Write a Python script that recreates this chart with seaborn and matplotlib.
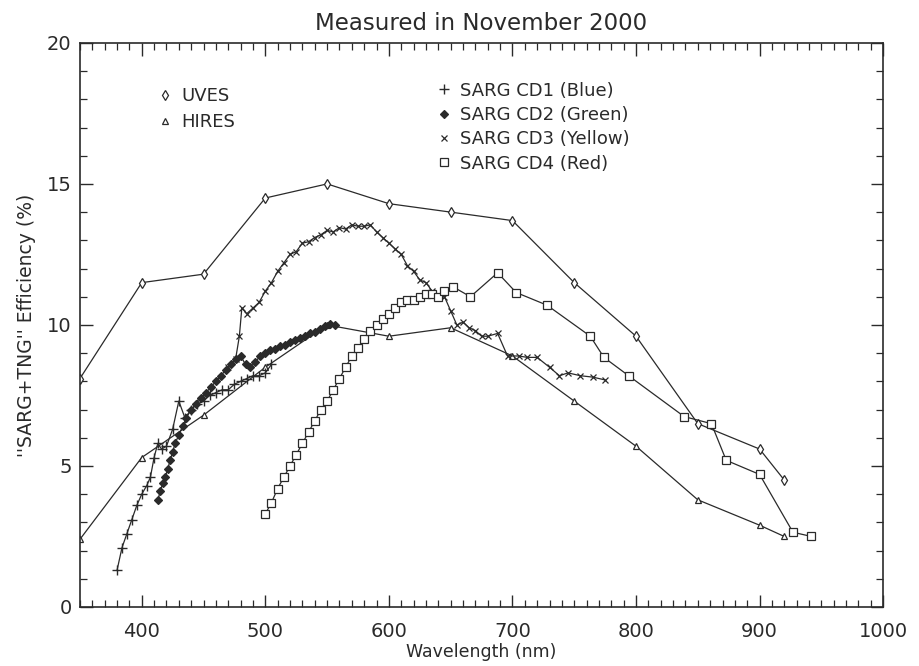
import matplotlib
matplotlib.use("Agg")
import matplotlib.pyplot as plt
import seaborn as sns
import pandas as pd
from matplotlib.lines import Line2D
from matplotlib.ticker import MultipleLocator

# ---- data ----
uves_x = [350, 400, 450, 500, 550, 600, 650, 700, 750, 800, 850, 900, 920]
uves_y = [8.1, 11.5, 11.8, 14.5, 15.0, 14.3, 14.0, 13.7, 11.5, 9.6, 6.5, 5.6, 4.5]

hires_x = [350, 400, 450, 500, 550, 600, 650, 700, 750, 800, 850, 900, 920]
hires_y = [2.4, 5.3, 6.8, 8.5, 10.0, 9.6, 9.9, 8.9, 7.3, 5.7, 3.8, 2.9, 2.5]

cd1_x = [380, 384, 388, 392, 396, 400, 404, 407, 410, 413, 416, 420, 425, 430, 435,
         440, 445, 450, 455, 460, 465, 470, 475, 480, 485, 490, 495, 500, 505]
cd1_y = [1.3, 2.1, 2.6, 3.1, 3.6, 4.0, 4.3, 4.6, 5.3, 5.8, 5.6, 5.7, 6.3, 7.3, 6.7,
         7.0, 7.2, 7.3, 7.5, 7.6, 7.7, 7.7, 7.9, 8.0, 8.1, 8.2, 8.2, 8.3, 8.6]

cd2_x = [413, 415, 417, 419, 421, 423, 425, 427, 430, 433, 436, 440, 444, 448, 452,
         456, 460, 464, 468, 472, 476, 480, 484, 488, 492, 496, 500, 504, 508, 512,
         516, 520, 524, 528, 532, 536, 540, 544, 548, 552, 556]
cd2_y = [3.8, 4.1, 4.4, 4.6, 4.9, 5.2, 5.5, 5.8, 6.1, 6.4, 6.7, 7.0, 7.2, 7.4, 7.6,
         7.8, 8.0, 8.2, 8.4, 8.6, 8.8, 8.9, 8.6, 8.5, 8.7, 8.9, 9.0, 9.1, 9.15, 9.25,
         9.3, 9.4, 9.45, 9.55, 9.6, 9.7, 9.75, 9.85, 9.95, 10.05, 10.0]

cd3_x = [470, 476, 479, 481, 485, 490, 495, 500, 505, 510, 515, 520, 525, 530, 535,
         540, 545, 550, 555, 560, 565, 570, 575, 580, 585, 590, 595, 600, 605, 610,
         615, 620, 625, 630, 635, 640, 645, 650, 655, 660, 665, 670, 675, 680, 688,
         696, 705, 712, 720, 730, 738, 745, 755, 765, 775]
cd3_y = [8.5, 8.8, 9.6, 10.6, 10.4, 10.6, 10.8, 11.2, 11.5, 11.9, 12.2, 12.5, 12.6, 12.9, 12.95,
         13.1, 13.2, 13.35, 13.3, 13.45, 13.4, 13.55, 13.5, 13.5, 13.55, 13.3, 13.1, 12.9, 12.7, 12.5,
         12.1, 11.9, 11.6, 11.5, 11.2, 11.0, 11.0, 10.5, 10.0, 10.1, 9.9, 9.8, 9.6, 9.6, 9.7,
         8.9, 8.9, 8.85, 8.85, 8.5, 8.2, 8.3, 8.2, 8.15, 8.05]

cd4_x = [500, 505, 510, 515, 520, 525, 530, 535, 540, 545, 550, 555, 560, 565, 570,
         575, 580, 585, 590, 595, 600, 605, 610, 615, 620, 625, 630, 635, 640, 645,
         652, 666, 688, 703, 728, 763, 774, 794, 839, 861, 873, 900, 927, 942]
cd4_y = [3.3, 3.7, 4.2, 4.6, 5.0, 5.4, 5.8, 6.2, 6.6, 7.0, 7.3, 7.7, 8.1, 8.5, 8.9,
         9.2, 9.5, 9.8, 10.0, 10.2, 10.4, 10.6, 10.8, 10.9, 10.9, 11.0, 11.1, 11.1, 11.0, 11.2,
         11.35, 11.0, 11.85, 11.15, 10.7, 9.6, 8.85, 8.2, 6.75, 6.5, 5.2, 4.7, 2.65, 2.5]

series_names = ["UVES", "HIRES", "SARG CD1 (Blue)", "SARG CD2 (Green)",
                "SARG CD3 (Yellow)", "SARG CD4 (Red)"]
xticks = [400, 500, 600, 700, 800, 900, 1000]
yticks = [0, 5, 10, 15, 20]

# ---- style ----
sns.set_theme(style="ticks")
plt.rcParams["font.family"] = ["DejaVu Sans"]
ink = "#2a2a2a"

fig = plt.figure(figsize=(9.19, 6.66), dpi=100)
ax = fig.add_axes([0.087, 0.0886, 0.874, 0.847])

styles = {
    "UVES": dict(marker="d", ms=5, mfc="white", mew=0.9),
    "HIRES": dict(marker="^", ms=5, mfc="white", mew=0.9),
    "SARG CD1 (Blue)": dict(marker="+", ms=7, mfc=ink, mew=1.0),
    "SARG CD2 (Green)": dict(marker="D", ms=4.5, mfc=ink, mew=0.9),
    "SARG CD3 (Yellow)": dict(marker="x", ms=5, mfc=ink, mew=0.9),
    "SARG CD4 (Red)": dict(marker="s", ms=5.5, mfc="white", mew=0.9),
}
data = {
    "UVES": (uves_x, uves_y),
    "HIRES": (hires_x, hires_y),
    "SARG CD1 (Blue)": (cd1_x, cd1_y),
    "SARG CD2 (Green)": (cd2_x, cd2_y),
    "SARG CD3 (Yellow)": (cd3_x, cd3_y),
    "SARG CD4 (Red)": (cd4_x, cd4_y),
}

for name in series_names:
    xs, ys = data[name]
    df = pd.DataFrame({"wl": xs, "eff": ys})
    st = styles[name]
    sns.lineplot(data=df, x="wl", y="eff", ax=ax, sort=False, color=ink,
                 linewidth=0.9, marker=st["marker"], markersize=st["ms"],
                 markerfacecolor=st["mfc"], markeredgecolor=ink,
                 markeredgewidth=st["mew"], legend=False)

ax.set_xlim(350, 1000)
ax.set_ylim(0, 20)
ax.set_xticks(xticks)
ax.set_yticks(yticks)
ax.xaxis.set_minor_locator(MultipleLocator(10))
ax.yaxis.set_minor_locator(MultipleLocator(1))
ax.tick_params(which="both", direction="in", top=True, right=True, color=ink,
               labelsize=14, labelcolor=ink)
ax.tick_params(which="major", length=9, width=1.0)
ax.tick_params(which="minor", length=5, width=0.9)
ax.tick_params(axis="x", which="major", pad=11)
ax.tick_params(axis="y", which="major", pad=6)
for sp in ax.spines.values():
    sp.set_color(ink)
    sp.set_linewidth(1.2)

ax.set_xlabel("Wavelength (nm)", fontsize=12.5, color=ink, labelpad=1)
ax.set_ylabel("''SARG+TNG'' Efficiency (%)", fontsize=13.5, color=ink, labelpad=8)
ax.set_title("Measured in November 2000", fontsize=16.5, color=ink, pad=9)

def handle(name):
    st = styles[name]
    return Line2D([], [], linestyle="none", marker=st["marker"], color=ink,
                  markersize=st["ms"], markerfacecolor=st["mfc"],
                  markeredgecolor=ink, markeredgewidth=st["mew"])

leg1 = ax.legend([handle(n) for n in series_names[:2]], series_names[:2],
                 loc="upper left", bbox_to_anchor=(0.075, 0.95), frameon=False,
                 fontsize=13, handlelength=1.0, handletextpad=0.4,
                 labelspacing=0.45, labelcolor=ink)
ax.add_artist(leg1)
ax.legend([handle(n) for n in series_names[2:]], series_names[2:],
          loc="upper left", bbox_to_anchor=(0.422, 0.96), frameon=False,
          fontsize=13, handlelength=1.0, handletextpad=0.4,
          labelspacing=0.35, labelcolor=ink)

fig.savefig("out.png", dpi=100, facecolor="white")
